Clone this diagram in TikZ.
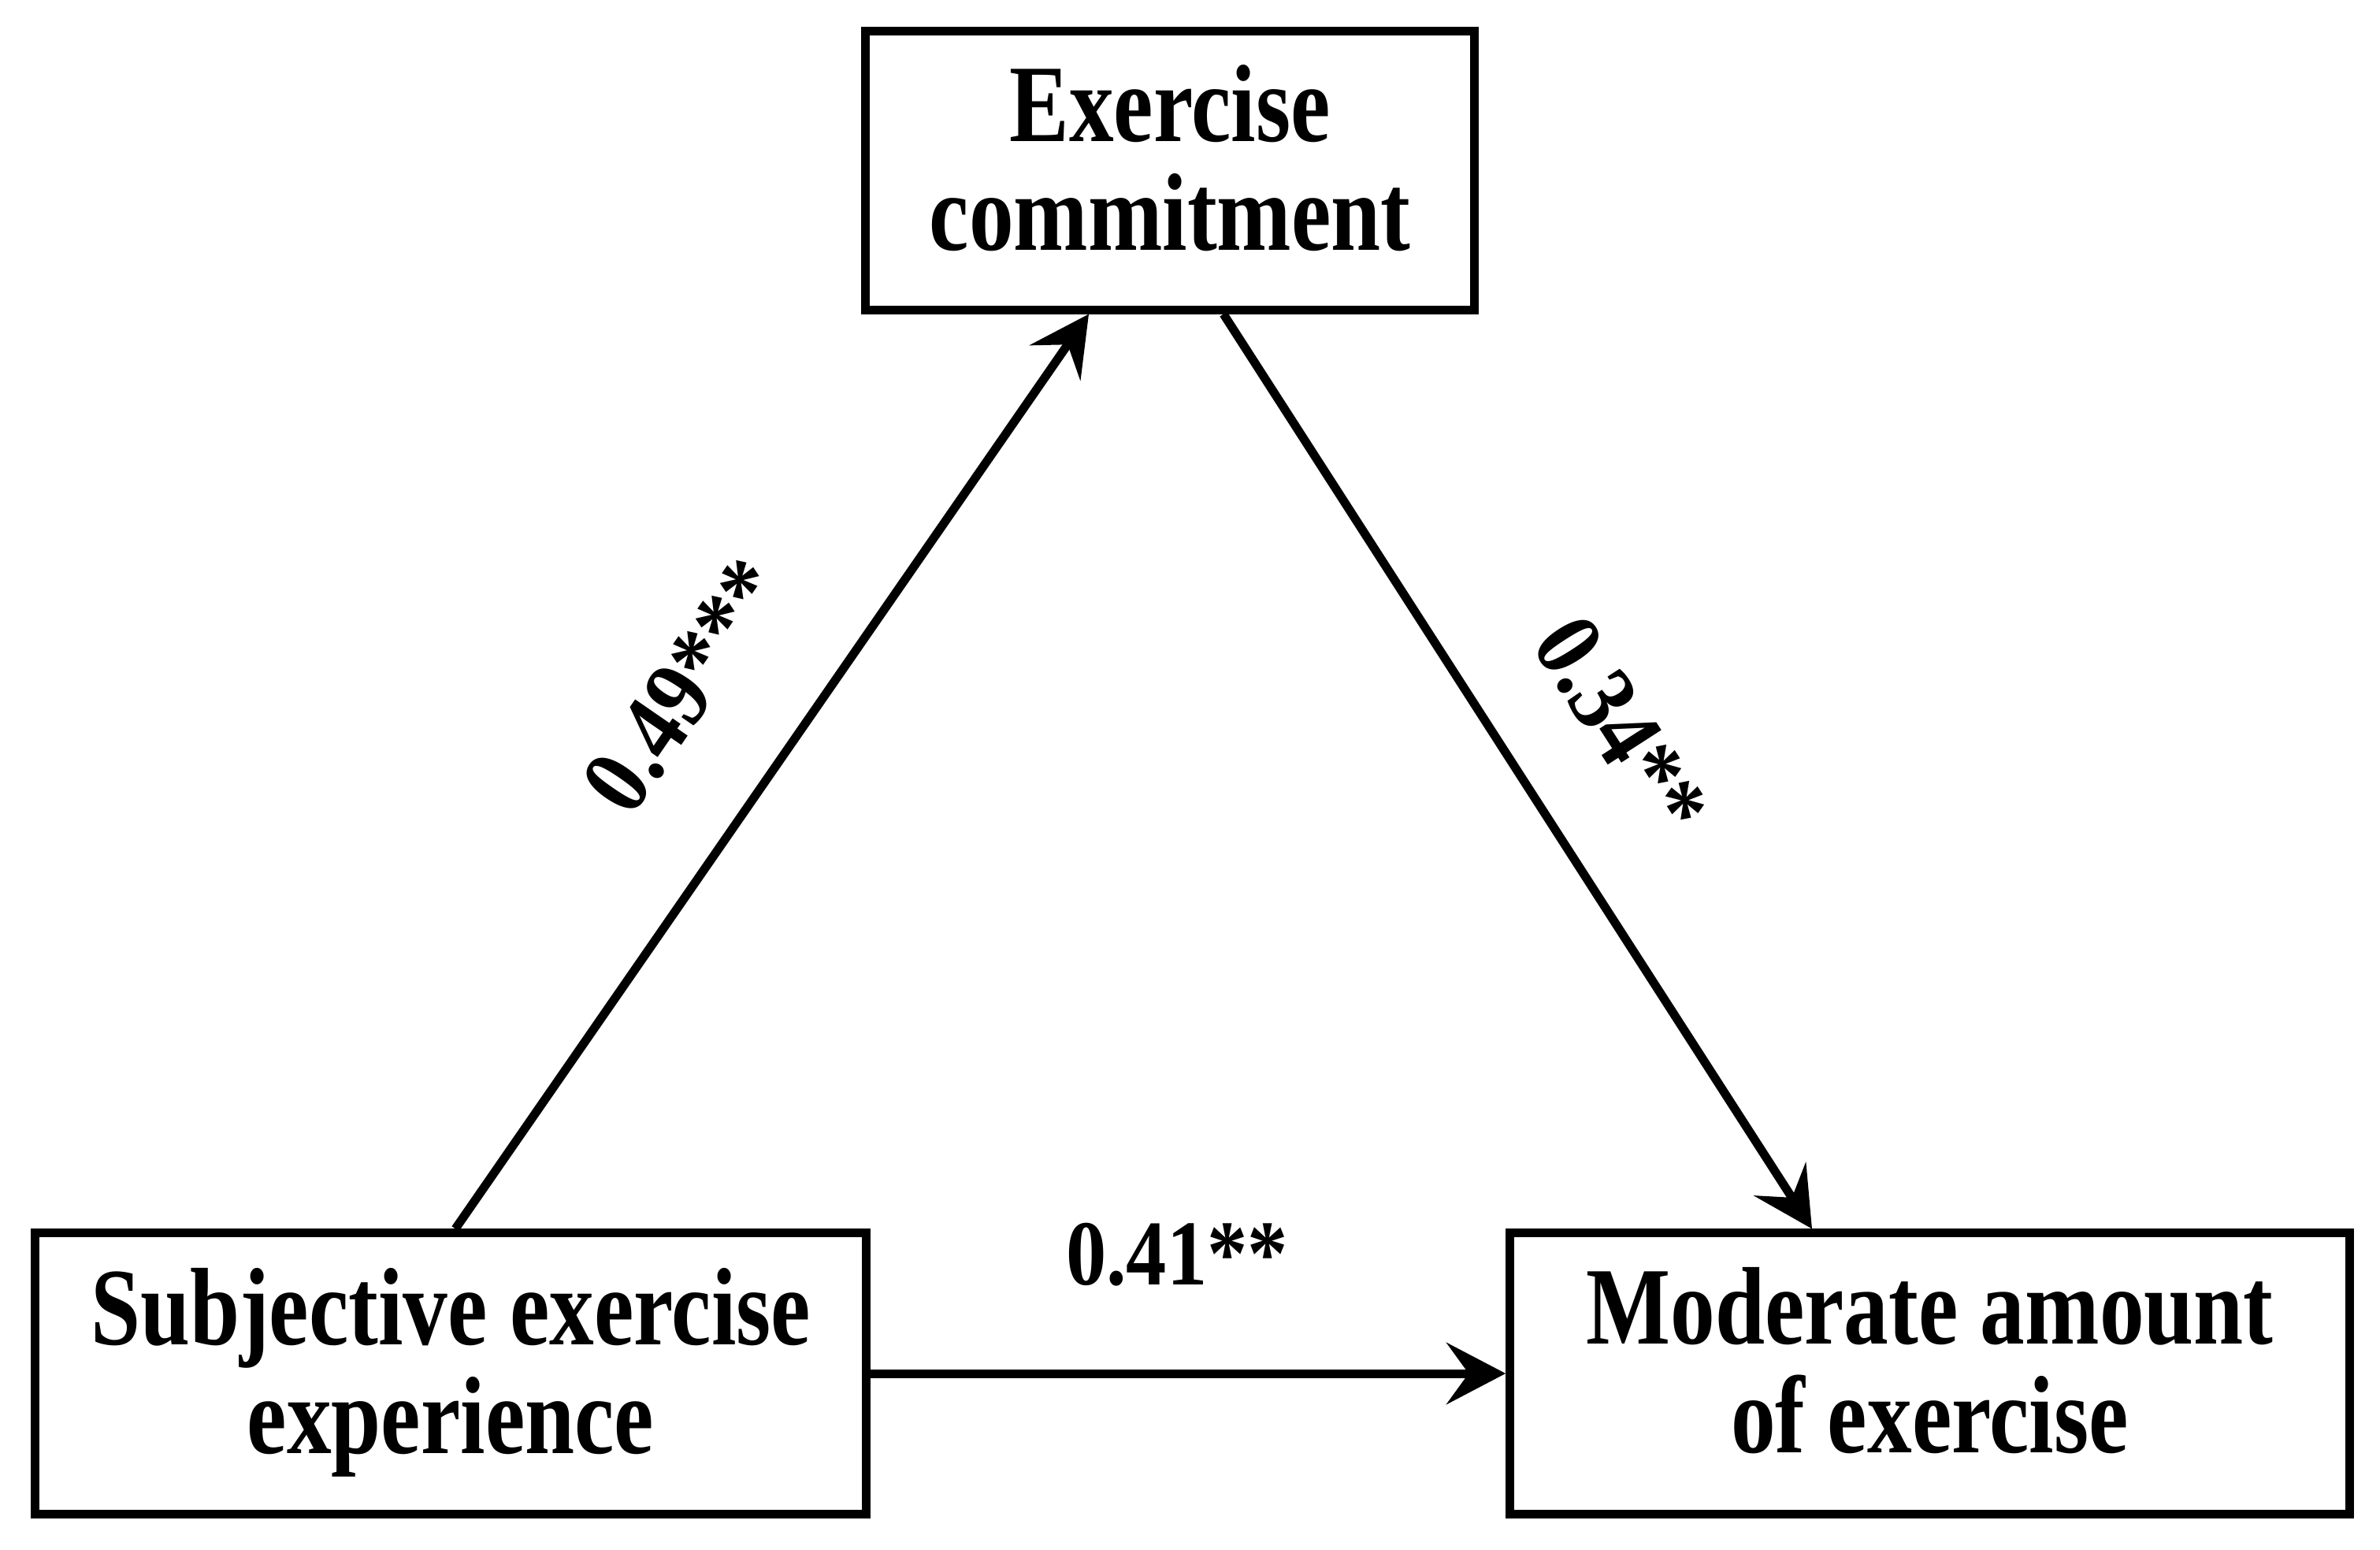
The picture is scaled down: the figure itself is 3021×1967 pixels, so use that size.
\documentclass[tikz,border=0pt]{standalone}
\usepackage{fontspec}
\setmainfont{Liberation Serif}
\newfontfamily\boxfont{Liberation Serif}[FakeStretch=0.81]
\newfontfamily\labfont{Liberation Serif}[FakeStretch=0.87]
\newfontfamily\rotfont{Liberation Serif}[FakeStretch=0.89]
\usetikzlibrary{arrows.meta,calc}
\begin{document}
\begin{tikzpicture}[x=0.01cm, y=-0.01cm,
  box/.style={draw, line width=0.11cm, inner sep=0pt},
  boxtext/.style={font=\boxfont\bfseries\fontsize{39.8}{39.3}\selectfont, align=center, inner sep=0pt},
  lab/.style={font=\labfont\bfseries\fontsize{33.5}{34}\selectfont, inner sep=0pt},
  rlab/.style={font=\rotfont\bfseries\fontsize{35}{36}\selectfont, inner sep=0pt},
  link/.style={line width=0.11cm, -{Stealth[length=0.75cm,width=0.78cm,inset=0.28cm]}}]
\path[fill=white, use as bounding box] (0,0) rectangle (3021,1967);
\node[box, minimum width=7.72cm, minimum height=3.53cm] (ec) at (1485,216.5) {};
\node[box, minimum width=10.54cm, minimum height=3.56cm] (sub) at (572,1743) {};
\node[box, minimum width=10.65cm, minimum height=3.56cm] (mod) at (2449.5,1743) {};
\node[boxtext] (ect) at (1485,201) {Exercise\\commitment};
\node[boxtext] (subt) at (572,1741.5) {Subjective exercise\\experience};
\node[boxtext] (modt) at (2449.5,1727) {Moderate amount\\of exercise};
\node[lab, anchor=base] (l41) at (1494,1630) {0.41**};
\node[rlab, anchor=base, rotate=55.4] (l49) at (902,893) {0.49***};
\node[rlab, anchor=base, rotate=-57.2] (l34) at (2024,944) {0.34**};
\draw[link] ($(sub.north)+(6,0)$) -- ($(ec.south)+(-103,0)$);
\draw[link] ($(ec.south)+(68,0)$) -- ($(mod.north)+(-149.5,0)$);
\draw[link] (sub.east) -- (mod.west);
\end{tikzpicture}
\end{document}
